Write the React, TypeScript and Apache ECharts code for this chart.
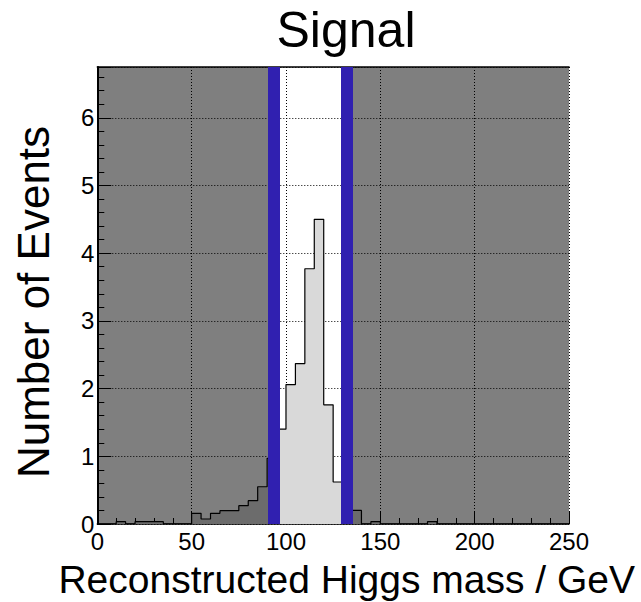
import React, { useEffect, useRef } from "react";
import * as echarts from "echarts";

// Histogram: 5 GeV bins from 0 to 250 GeV
const binLowEdges = [
  0, 5, 10, 15, 20, 25, 30, 35, 40, 45,
  50, 55, 60, 65, 70, 75, 80, 85, 90, 95,
  100, 105, 110, 115, 120, 125, 130, 135, 140, 145,
  150, 155, 160, 165, 170, 175, 180, 185, 190, 195,
  200, 205, 210, 215, 220, 225, 230, 235, 240, 245,
];
const histUpperEdge = 250;
const counts = [
  0, 0, 0.035, 0, 0.035, 0.035, 0.035, 0, 0, 0,
  0.157, 0.074, 0.157, 0.197, 0.197, 0.27, 0.345, 0.55, 0.97, 1.4,
  2.06, 2.37, 3.77, 4.5, 1.76, 0.62, 0.35, 0.2, 0, 0.035,
  0, 0, 0, 0, 0, 0.035, 0, 0, 0, 0,
  0, 0, 0, 0, 0, 0, 0, 0, 0, 0,
];
// Mass window (cut lines)
const windowEdges = [93.3, 132.2];
const xRange = [0, 250];
const yRange = [0, 6.75];

const FONT = "'Liberation Sans', Arial, Helvetica, sans-serif";

export default function App() {
  const ref = useRef<HTMLDivElement>(null);
  useEffect(() => {
    if (!ref.current) return;
    const chart = echarts.init(ref.current, null, { renderer: "svg" });
    const stepData: number[][] = binLowEdges.map((x, i) => [x, counts[i]]);
    stepData.push([histUpperEdge, counts[counts.length - 1]]);

    const option: any = {
      animation: false,
      textStyle: { fontFamily: FONT },
      grid: { left: 97.3, right: 72, top: 67, bottom: 78, containLabel: false },
      xAxis: [
        {
          type: "value",
          min: xRange[0],
          max: xRange[1],
          interval: 50,
          position: "bottom",
          axisLine: { show: true, onZero: false, lineStyle: { color: "#000", width: 1.5 } },
          axisTick: { show: true, inside: true, length: 12, lineStyle: { color: "#000", width: 1 } },
          minorTick: { show: true, splitNumber: 5, length: 6, lineStyle: { color: "#000", width: 1 } },
          axisLabel: { show: true, color: "#000", fontSize: 24, fontFamily: FONT, margin: 5 },
          splitLine: { show: true, lineStyle: { color: "#000", type: [1, 2], width: 1 } },
          minorSplitLine: { show: false },
        },
        {
          type: "value",
          min: xRange[0],
          max: xRange[1],
          position: "top",
          axisLine: { show: true, onZero: false, lineStyle: { color: "#000", width: 1.5 } },
          axisTick: { show: false },
          axisLabel: { show: false },
          splitLine: { show: false },
        },
      ],
      yAxis: {
        type: "value",
        min: yRange[0],
        max: yRange[1],
        interval: 1,
        axisLine: { show: true, onZero: false, lineStyle: { color: "#000", width: 2 } },
        axisTick: { show: true, inside: true, length: 14, lineStyle: { color: "#000", width: 1 } },
        minorTick: { show: true, splitNumber: 5, length: 7, lineStyle: { color: "#000", width: 1 } },
        axisLabel: {
          show: true,
          color: "#000",
          fontSize: 24,
          fontFamily: FONT,
          margin: 3,
          showMaxLabel: false,
          padding: [5, 0, 0, 0],
        },
        splitLine: { show: true, lineStyle: { color: "#000", type: [1, 2], width: 1 } },
      },
      series: [
        {
          type: "line",
          step: "end",
          data: stepData,
          symbol: "none",
          lineStyle: { color: "#000", width: 1.2 },
          areaStyle: { color: "#d9d9d9", opacity: 1, origin: "start" },
          z: 2,
          silent: true,
        },
        {
          type: "line",
          data: [],
          symbol: "none",
          z: 5,
          silent: true,
          markArea: {
            silent: true,
            z: 4,
            itemStyle: { color: "rgba(0,0,0,0.5)", borderWidth: 0 },
            data: [
              [{ xAxis: xRange[0] }, { xAxis: windowEdges[0] }],
              [{ xAxis: windowEdges[1] }, { xAxis: xRange[1] }],
            ],
          },
          markLine: {
            silent: true,
            z: 6,
            symbol: ["none", "none"],
            label: { show: false },
            lineStyle: { color: "#3020b0", width: 12, type: "solid" },
            data: [{ xAxis: windowEdges[0] }, { xAxis: windowEdges[1] }],
          },
        },
      ],
      graphic: [
        {
          type: "text",
          x: 346,
          y: 30,
          style: {
            text: "Signal",
            font: `50px ${FONT}`,
            fill: "#000",
            textAlign: "center",
            textVerticalAlign: "middle",
          },
        },
        {
          type: "text",
          x: 635,
          y: 579,
          style: {
            text: "Reconstructed Higgs mass / GeV",
            font: `39px ${FONT}`,
            fill: "#000",
            textAlign: "right",
            textVerticalAlign: "middle",
          },
        },
        {
          type: "text",
          x: 33,
          y: 302,
          rotation: Math.PI / 2,
          style: {
            text: "Number of Events",
            font: `44px ${FONT}`,
            fill: "#000",
            textAlign: "center",
            textVerticalAlign: "middle",
          },
        },
      ],
    };
    chart.setOption(option);
    return () => chart.dispose();
  }, []);
  return (
    <div
      ref={ref}
      style={{ position: "fixed", left: 0, top: 0, width: 641, height: 602, background: "#fff" }}
    />
  );
}
